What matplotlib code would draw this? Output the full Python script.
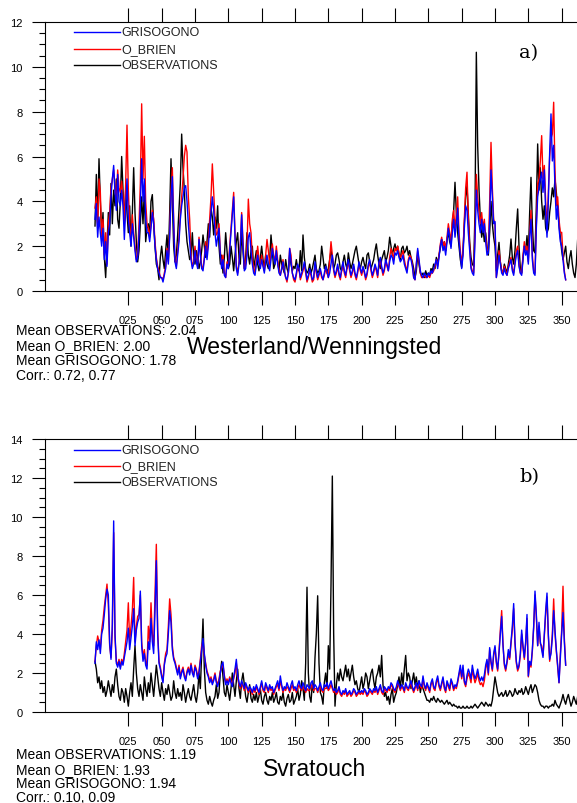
import numpy as np
import matplotlib
matplotlib.use("Agg")
import matplotlib.pyplot as plt
from matplotlib.ticker import MultipleLocator, FixedLocator

plt.rcParams['font.family'] = ['Liberation Sans', 'DejaVu Sans']

# ---------------- Panel a: Westerland/Wenningsted ----------------
a_obs = [
 2.9, 5.2, 3.0, 5.9, 4.0, 2.5, 3.5, 1.5, 0.6, 2.0,
 3.5, 2.5, 4.8, 3.0, 4.5, 3.8, 5.0, 3.2, 2.8, 4.0,
 6.0, 4.5, 3.0, 4.5, 3.5, 2.6, 3.8, 2.0, 3.5, 5.5,
 3.5, 2.2, 1.3, 1.8, 3.0, 4.2, 3.0, 4.5, 2.2, 2.8,
 3.0, 2.5, 4.0, 4.3, 3.0, 2.0, 1.2, 1.0, 0.5, 1.5,
 2.0, 1.4, 1.0, 1.8, 2.5, 1.5, 3.5, 5.9, 4.0, 2.0,
 1.3, 1.6, 2.5, 3.7, 4.8, 7.0, 5.5, 4.5, 3.0, 2.2,
 1.8, 1.4, 1.6, 2.6, 1.5, 1.2, 1.8, 1.5, 1.0, 1.3,
 1.8, 2.5, 2.0, 1.5, 2.2, 3.0, 2.4, 3.7, 3.3, 2.5,
 3.3, 2.8, 3.8, 2.0, 1.2, 1.6, 0.8, 1.5, 2.6, 1.8,
 1.0, 1.2, 2.0, 1.5, 0.9, 1.6, 2.2, 2.6, 1.5, 1.2,
 2.6, 1.8, 1.0, 1.5, 2.6, 1.6, 1.2, 1.8, 2.0, 1.0,
 1.4, 1.8, 1.2, 0.9, 1.5, 2.0, 1.4, 1.0, 1.6, 1.2,
 1.0, 1.4, 2.5, 1.8, 1.0, 1.2, 1.6, 1.3, 0.9, 1.6,
 1.2, 1.0, 0.8, 1.4, 1.0, 0.8, 1.6, 1.2, 0.9, 1.1,
 1.0, 1.4, 1.0, 0.9, 1.8, 0.9, 2.5, 1.5, 1.0, 0.8,
 0.9, 1.2, 0.8, 1.0, 1.3, 1.6, 1.0, 0.8, 0.9, 1.2,
 2.0, 1.5, 1.0, 1.2, 0.8, 1.0, 1.4, 1.8, 1.5, 1.0,
 1.2, 1.6, 1.7, 1.4, 1.0, 0.9, 1.3, 1.6, 1.2, 1.0,
 1.7, 1.3, 1.0, 1.2, 1.5, 1.8, 2.0, 1.6, 1.2, 1.0,
 1.3, 1.5, 1.2, 1.0, 1.6, 1.7, 1.3, 1.0, 1.2, 1.4,
 1.8, 2.1, 1.6, 1.2, 1.0, 1.4, 1.6, 1.8, 1.3, 1.5,
 1.8, 2.4, 2.0, 1.6, 1.9, 2.1, 1.8, 2.0, 1.6, 1.4,
 1.9, 2.0, 1.7, 1.8, 2.0, 1.6, 1.8, 1.5, 1.3, 1.0,
 0.6, 0.9, 1.6, 1.2, 0.8, 0.7, 0.8, 0.6, 0.9, 0.7,
 0.8, 0.7, 1.0, 0.9, 1.2, 1.0, 1.5, 1.2, 1.6, 1.9,
 2.3, 2.0, 2.2, 1.8, 2.3, 2.6, 2.2, 2.0, 3.0, 3.6,
 4.85, 3.5, 2.6, 2.0, 1.4, 1.05, 1.8, 3.0, 4.2, 4.7,
 3.5, 2.2, 1.5, 1.2, 1.1, 3.5, 10.65, 6.5, 4.55, 3.2,
 2.4, 2.8, 2.2, 2.6, 2.0, 1.6, 2.6, 4.0, 3.0, 2.4,
 2.0, 0.9, 1.6, 2.17, 1.3, 0.9, 0.8, 1.2, 1.0, 0.8,
 1.2, 1.6, 2.32, 1.5, 1.2, 1.8, 2.8, 3.66, 2.0, 1.0,
 0.8, 1.5, 2.0, 1.8, 2.47, 1.6, 3.5, 5.07, 3.0, 1.8,
 1.7, 3.8, 6.56, 4.5, 5.5, 4.0, 3.2, 3.8, 2.8, 2.6,
 2.77, 3.5, 4.0, 4.6, 4.2, 5.0, 4.4, 3.66, 3.0, 2.4,
 1.8, 1.4, 1.7, 2.0, 1.3, 1.0, 1.5, 1.8, 1.2, 0.8,
 0.6, 1.2, 2.3, 2.0, 1.8,
]
a_obr = [
 3.7, 4.2, 2.8, 5.0, 4.4, 2.4, 3.2, 1.6, 2.6, 1.2,
 3.0, 3.5, 4.6, 5.0, 5.4, 4.6, 4.0, 5.4, 4.6, 4.4,
 4.9, 4.2, 3.0, 4.8, 7.4, 4.5, 3.0, 2.2, 3.4, 2.6,
 2.0, 1.4, 1.6, 3.0, 4.8, 8.35, 5.0, 6.9, 4.0, 3.0,
 2.8, 2.4, 3.0, 3.6, 3.2, 2.2, 1.5, 1.1, 0.9, 0.6,
 0.6, 0.5, 0.8, 1.1, 1.9, 1.3, 2.6, 4.4, 5.5, 3.2,
 1.4, 1.1, 1.8, 2.4, 3.4, 4.2, 5.0, 6.0, 6.5, 6.2,
 4.2, 3.2, 1.6, 1.1, 1.3, 2.0, 1.4, 1.1, 2.4, 1.7,
 1.1, 1.0, 1.5, 2.2, 1.6, 2.3, 3.2, 4.2, 5.67, 4.4,
 3.2, 2.5, 2.6, 3.0, 1.8, 1.1, 1.6, 0.8, 0.6, 1.3,
 1.1, 2.0, 2.8, 3.6, 4.4, 2.6, 1.1, 0.8, 1.3, 2.1,
 3.5, 2.2, 1.0, 1.2, 2.0, 4.1, 3.0, 2.6, 1.5, 1.0,
 0.8, 1.4, 2.0, 1.4, 1.1, 1.6, 1.2, 0.9, 1.6, 2.3,
 1.8, 1.2, 1.6, 2.1, 1.6, 1.3, 2.0, 1.4, 0.9, 0.7,
 1.0, 1.4, 0.9, 0.6, 0.4, 0.8, 1.9, 1.6, 0.8, 0.5,
 0.4, 0.7, 1.1, 1.0, 0.5, 0.7, 0.9, 1.2, 0.8, 0.4,
 0.6, 0.9, 0.7, 0.4, 0.5, 1.2, 0.8, 0.5, 0.7, 0.9,
 0.6, 0.5, 0.7, 1.0, 0.8, 0.6, 1.4, 2.2, 1.6, 0.9,
 0.6, 0.8, 1.1, 0.7, 0.5, 0.9, 1.2, 0.8, 0.6, 1.0,
 1.3, 0.9, 0.6, 0.8, 1.1, 0.7, 0.5, 0.8, 1.2, 0.9,
 0.7, 1.0, 0.8, 0.5, 0.7, 1.1, 1.3, 0.9, 0.6, 0.8,
 1.1, 0.9, 0.6, 1.2, 1.4, 1.0, 0.7, 0.9, 1.3, 1.1,
 0.9, 1.5, 1.9, 1.7, 1.4, 1.9, 1.8, 2.0, 1.7, 1.5,
 1.6, 1.8, 1.4, 1.1, 0.9, 1.4, 1.6, 1.5, 1.2, 0.6,
 0.5, 1.2, 1.8, 1.3, 0.8, 0.6, 0.6, 0.7, 0.6, 0.6,
 0.7, 0.6, 0.8, 0.8, 0.9, 1.1, 1.4, 1.1, 1.6, 2.1,
 2.4, 2.0, 2.2, 1.8, 2.4, 3.0, 2.6, 2.2, 3.2, 3.6,
 2.8, 3.4, 4.2, 2.6, 1.8, 1.2, 1.8, 3.2, 4.6, 5.3,
 3.2, 2.0, 1.1, 0.9, 0.8, 2.6, 5.2, 4.2, 3.5, 3.0,
 3.5, 2.8, 3.2, 2.4, 1.8, 1.8, 4.0, 6.63, 4.6, 3.2,
 3.0, 0.6, 1.1, 1.8, 1.3, 0.9, 0.8, 1.1, 0.9, 0.7,
 1.1, 1.3, 1.5, 1.0, 0.8, 1.3, 1.8, 2.0, 1.2, 0.8,
 0.8, 1.6, 2.2, 1.8, 2.0, 1.3, 2.6, 3.6, 1.6, 0.9,
 0.8, 3.0, 4.8, 5.0, 5.8, 6.93, 5.0, 5.6, 4.0, 2.8,
 4.4, 6.0, 6.8, 7.0, 8.42, 5.4, 3.8, 4.2, 3.2, 2.6,
 2.62, 1.6, 0.9, 0.5,
]
a_gri = [
 3.2, 3.9, 2.4, 3.3, 2.6, 2.0, 2.8, 1.4, 2.2, 1.1,
 2.6, 3.0, 4.2, 5.0, 5.6, 4.4, 3.6, 5.2, 4.0, 3.8,
 4.5, 3.8, 2.3, 3.6, 5.0, 3.2, 2.6, 2.0, 3.0, 2.4,
 1.8, 1.3, 1.5, 2.5, 3.8, 5.9, 4.0, 5.0, 3.2, 2.6,
 2.6, 2.2, 2.8, 3.5, 3.0, 2.0, 1.4, 1.0, 0.8, 0.6,
 0.6, 0.4, 0.7, 1.0, 1.8, 1.2, 2.4, 4.2, 5.1, 3.0,
 1.3, 1.0, 1.6, 2.2, 3.2, 3.8, 4.2, 4.6, 4.7, 4.0,
 3.0, 2.2, 1.4, 1.0, 1.2, 1.8, 1.3, 1.0, 2.3, 1.6,
 1.0, 0.9, 1.4, 2.0, 1.4, 2.0, 2.8, 3.5, 4.2, 3.6,
 2.6, 2.0, 2.4, 2.8, 1.6, 1.0, 1.4, 0.7, 0.6, 1.2,
 1.0, 1.8, 2.6, 3.4, 4.2, 2.4, 1.0, 0.7, 1.2, 2.0,
 3.4, 2.0, 0.9, 1.0, 1.6, 2.4, 2.6, 1.8, 1.2, 0.8,
 0.7, 1.2, 1.6, 1.2, 1.0, 1.4, 1.1, 0.8, 1.3, 1.6,
 1.2, 0.9, 1.4, 1.9, 1.5, 1.2, 1.8, 1.2, 0.8, 0.7,
 1.0, 1.3, 0.9, 0.6, 0.5, 0.8, 1.9, 1.3, 0.8, 0.6,
 0.5, 0.8, 1.2, 1.0, 0.6, 0.8, 1.0, 1.3, 0.9, 0.5,
 0.7, 1.0, 0.8, 0.5, 0.6, 1.3, 0.9, 0.6, 0.8, 1.0,
 0.7, 0.5, 0.8, 1.1, 0.9, 0.6, 0.8, 1.2, 1.6, 1.0,
 0.7, 0.9, 1.2, 0.8, 0.6, 1.0, 1.3, 0.9, 0.7, 1.1,
 1.4, 1.0, 0.7, 0.9, 1.2, 0.8, 0.6, 0.9, 1.3, 1.0,
 0.8, 1.1, 0.9, 0.6, 0.8, 1.2, 1.4, 1.0, 0.7, 0.9,
 1.2, 1.0, 0.7, 1.3, 1.5, 1.1, 0.8, 1.0, 1.4, 1.2,
 0.9, 1.3, 1.6, 1.5, 1.2, 1.7, 1.6, 1.8, 1.5, 1.3,
 1.4, 1.6, 1.2, 1.0, 0.8, 1.3, 1.5, 1.4, 1.1, 0.6,
 0.5, 1.2, 1.9, 1.4, 0.9, 0.7, 0.6, 0.8, 0.7, 0.6,
 0.8, 0.7, 0.9, 0.8, 1.0, 1.2, 1.4, 1.0, 1.5, 2.0,
 2.3, 1.8, 2.0, 1.6, 2.2, 2.8, 2.4, 1.9, 2.6, 3.2,
 2.4, 3.0, 3.7, 2.2, 1.6, 1.0, 1.6, 2.8, 3.8, 3.6,
 2.6, 1.8, 1.0, 0.8, 0.7, 2.2, 4.5, 3.6, 3.0, 2.6,
 3.2, 2.6, 3.0, 2.2, 1.6, 1.7, 3.2, 5.4, 4.2, 3.0,
 3.1, 0.6, 1.0, 1.6, 1.2, 0.8, 0.7, 1.0, 0.8, 0.7,
 1.0, 1.2, 1.4, 0.9, 0.7, 1.2, 1.6, 1.8, 1.1, 0.8,
 0.7, 1.4, 2.0, 1.6, 1.8, 1.2, 2.4, 3.2, 1.4, 0.8,
 0.7, 2.8, 4.2, 4.6, 5.0, 5.3, 4.4, 5.4, 3.5, 2.4,
 4.0, 6.2, 7.9, 5.8, 6.5, 4.6, 3.2, 3.8, 2.8, 2.2,
 2.0, 1.4, 0.8, 0.5,
]

# ---------------- Panel b: Svratouch ----------------
b_obs = [
 2.6, 2.2, 1.5, 1.8, 1.2, 1.6, 1.0, 1.3, 0.8, 1.1,
 1.6, 1.2, 0.8, 1.4, 1.0, 1.8, 2.2, 1.4, 0.8, 0.6,
 1.2, 1.0, 0.5, 1.2, 0.8, 0.3, 1.0, 1.5, 0.8, 2.2,
 3.4, 2.0, 1.2, 0.8, 1.4, 1.0, 0.6, 1.8, 1.2, 0.8,
 1.5, 1.0, 2.0, 1.4, 0.8, 1.6, 2.4, 1.8, 1.2, 0.8,
 1.5, 1.0, 0.6, 1.2, 0.9, 1.4, 1.0, 0.6, 0.8, 1.6,
 1.0, 0.7, 1.2, 0.8, 1.0, 0.6, 1.4, 1.0, 0.5, 0.9,
 1.2, 0.8, 0.6, 1.0, 1.4, 0.8, 0.5, 1.0, 2.0, 1.2,
 3.0, 4.77, 2.2, 1.0, 0.6, 0.4, 0.8, 0.5, 0.3, 0.6,
 0.8, 1.4, 0.7, 1.0, 2.0, 2.6, 1.8, 1.0, 0.8, 1.4,
 1.0, 0.6, 1.2, 2.0, 1.4, 0.8, 1.6, 2.2, 1.2, 0.7,
 1.6, 2.0, 1.4, 0.8, 0.5, 1.0, 1.4, 0.7, 0.5, 0.9,
 0.6, 1.0, 0.5, 0.8, 1.2, 0.6, 0.4, 0.8, 1.0, 0.6,
 0.4, 0.8, 0.6, 1.0, 0.5, 0.7, 1.0, 0.5, 0.4, 0.8,
 0.6, 1.0, 0.5, 0.3, 0.7, 0.9, 0.5, 0.6, 1.0, 0.4,
 0.6, 0.8, 1.2, 0.6, 0.9, 1.6, 1.2, 0.6, 2.5, 6.4,
 2.0, 0.8, 0.5, 1.5, 1.0, 2.8, 4.0, 5.96, 2.5, 1.0,
 0.8, 0.4, 1.5, 2.0, 1.2, 3.4, 2.2, 6.5, 12.1, 4.0,
 0.3, 1.4, 2.0, 1.6, 2.2, 1.8, 1.6, 2.0, 2.4, 1.8,
 2.2, 1.6, 2.0, 2.4, 1.8, 1.4, 1.6, 1.2, 1.0, 1.4,
 1.8, 1.2, 1.5, 2.0, 1.8, 1.2, 1.6, 2.0, 2.2, 1.6,
 1.2, 1.8, 2.0, 2.4, 1.8, 2.9, 1.4, 0.8, 1.0, 0.6,
 0.8, 0.4, 0.9, 1.2, 0.5, 0.8, 1.0, 1.4, 1.8, 1.2,
 2.0, 1.4, 2.2, 2.9, 1.6, 2.0, 1.8, 1.2, 1.6, 2.0,
 1.4, 1.8, 1.2, 1.6, 1.0, 1.4, 1.2, 1.0, 0.8, 0.6,
 0.6, 0.5, 0.7, 0.6, 0.8, 0.6, 0.5, 0.7, 0.6, 0.5,
 0.6, 0.5, 0.4, 0.5, 0.6, 0.4, 0.5, 0.4, 0.3, 0.4,
 0.3, 0.3, 0.2, 0.3, 0.2, 0.2, 0.3, 0.2, 0.2, 0.3,
 0.2, 0.2, 0.3, 0.2, 0.3, 0.4, 0.3, 0.2, 0.3, 0.4,
 0.5, 0.4, 0.3, 0.5, 0.4, 0.3, 0.4, 0.3, 0.6, 1.2,
 1.8, 1.4, 1.0, 0.8, 0.9, 1.0, 0.8, 0.9, 1.1, 0.8,
 0.9, 1.1, 1.0, 0.8, 0.9, 1.2, 1.0, 0.9, 1.1, 1.0,
 1.2, 0.9, 1.0, 1.3, 1.1, 0.9, 1.2, 1.4, 1.0, 1.2,
 1.4, 1.3, 1.0, 0.6, 0.4, 0.3, 0.3, 0.2, 0.3, 0.3,
 0.2, 0.3, 0.3, 0.4, 0.3, 0.6, 0.4, 0.3, 0.2, 0.4,
 0.6, 0.9, 0.6, 0.4, 0.7, 0.9, 0.6, 0.3, 0.5, 0.8,
 0.6, 0.4, 0.8, 0.6, 0.5,
]
b_obr = [
 2.6, 3.4, 3.9, 3.6, 3.2, 4.2, 4.7, 5.4, 6.0, 6.56,
 5.5, 3.4, 2.8, 4.2, 9.2, 3.8, 2.6, 2.4, 2.7, 2.3,
 2.7, 2.5, 3.0, 3.6, 4.2, 5.6, 3.6, 4.4, 5.2, 6.9,
 3.6, 4.4, 4.9, 5.0, 6.0, 3.6, 2.8, 3.2, 2.6, 2.4,
 4.4, 3.6, 5.6, 4.0, 3.4, 6.0, 8.6, 4.2, 2.6, 2.3,
 1.9, 1.6, 2.5, 3.0, 3.2, 4.4, 5.8, 5.0, 3.4, 2.8,
 2.6, 2.3, 2.0, 2.4, 1.8, 2.1, 2.3, 1.9, 1.7, 2.1,
 2.3, 2.0, 2.5, 2.1, 1.9, 2.4, 2.2, 1.8, 2.1, 2.7,
 3.4, 3.6, 2.9, 2.5, 2.1, 1.9, 1.6, 1.8, 1.5, 1.7,
 2.0, 1.6, 1.4, 1.7, 2.1, 2.3, 2.4, 1.9, 1.5, 1.7,
 1.5, 1.8, 1.6, 1.4, 1.7, 2.0, 2.5, 1.8, 1.4, 1.2,
 1.5, 1.3, 1.1, 1.4, 1.2, 1.0, 1.2, 1.1, 0.9, 1.2,
 1.0, 1.3, 1.1, 0.9, 1.2, 1.5, 1.1, 1.0, 1.4, 1.2,
 1.0, 1.3, 1.1, 1.2, 0.9, 1.1, 1.3, 1.4, 1.1, 1.6,
 1.3, 1.0, 1.2, 1.1, 1.3, 1.2, 1.0, 1.2, 1.4, 1.1,
 1.2, 1.0, 1.2, 1.4, 1.2, 1.1, 1.3, 1.2, 1.0, 1.2,
 1.1, 1.1, 1.3, 1.4, 1.1, 1.2, 1.2, 1.0, 1.2, 1.3,
 1.1, 1.0, 1.2, 1.2, 1.3, 1.1, 1.2, 1.4, 1.2, 1.0,
 1.1, 0.9, 1.0, 1.2, 0.9, 0.8, 1.0, 0.9, 1.1, 0.8,
 0.9, 1.0, 0.8, 0.9, 1.1, 1.0, 0.8, 0.9, 1.0, 0.9,
 1.0, 0.9, 1.1, 1.0, 0.8, 0.9, 1.1, 1.0, 0.9, 1.1,
 1.0, 1.2, 0.9, 1.1, 1.3, 1.0, 0.9, 1.2, 1.1, 1.0,
 1.2, 1.1, 1.4, 1.3, 1.1, 1.0, 1.2, 1.5, 1.3, 1.1,
 1.3, 1.2, 1.0, 1.4, 1.2, 1.1, 1.3, 1.5, 1.2, 1.0,
 1.2, 1.4, 1.1, 1.5, 1.3, 1.2, 1.7, 1.3, 1.1, 1.4,
 1.2, 1.0, 1.4, 1.6, 1.2, 1.1, 1.5, 1.7, 1.3, 1.1,
 1.4, 1.7, 1.2, 1.0, 1.5, 1.3, 1.1, 1.6, 1.4, 1.1,
 1.3, 1.2, 1.5, 1.9, 2.2, 1.7, 2.2, 1.5, 1.3, 1.7,
 2.0, 1.8, 1.5, 2.2, 1.8, 1.5, 1.7, 2.0, 1.6, 1.4,
 1.5, 1.3, 1.6, 2.2, 2.6, 1.9, 3.2, 2.5, 2.1, 2.9,
 3.3, 2.5, 2.1, 3.1, 4.2, 5.2, 3.5, 2.4, 2.1, 2.5,
 3.0, 2.7, 3.5, 4.2, 5.3, 3.5, 2.5, 2.1, 2.3, 2.9,
 4.0, 3.3, 2.7, 3.5, 4.8, 1.8, 2.5, 2.3, 3.1, 4.3,
 6.0, 4.9, 3.4, 4.4, 3.5, 3.4, 2.9, 3.9, 5.0, 5.9,
 3.9, 2.6, 3.1, 4.0, 5.8, 4.0, 3.1, 2.3, 1.5, 3.0,
 4.2, 6.45, 3.8, 2.4,
]
b_gri = [
 2.5, 3.6, 3.2, 3.7, 3.0, 4.0, 4.3, 5.0, 5.8, 6.3,
 6.0, 3.5, 2.7, 4.5, 9.8, 4.0, 2.5, 2.3, 2.6, 2.2,
 2.6, 2.4, 2.8, 3.2, 3.6, 4.3, 3.2, 3.8, 4.4, 5.3,
 3.4, 4.2, 4.6, 4.8, 6.2, 3.4, 2.6, 3.0, 2.4, 2.2,
 3.6, 3.2, 4.8, 3.6, 3.0, 5.2, 7.76, 4.0, 2.5, 2.2,
 1.8, 1.5, 2.4, 2.8, 3.0, 4.0, 5.2, 4.6, 3.2, 2.7,
 2.5, 2.2, 1.9, 2.3, 1.7, 2.0, 2.2, 1.8, 1.6, 2.0,
 2.2, 1.9, 2.4, 2.0, 1.8, 2.3, 2.1, 1.7, 2.0, 2.6,
 3.2, 3.77, 3.0, 2.4, 2.0, 1.8, 1.5, 1.7, 1.4, 1.6,
 1.9, 1.5, 1.3, 1.6, 2.0, 2.4, 2.56, 1.8, 1.4, 1.6,
 1.4, 1.7, 1.5, 1.3, 1.8, 2.2, 2.7, 1.9, 1.5, 1.3,
 1.6, 1.4, 1.2, 1.5, 1.3, 1.1, 1.3, 1.2, 1.0, 1.3,
 1.1, 1.4, 1.2, 1.0, 1.3, 1.6, 1.2, 1.1, 1.5, 1.3,
 1.1, 1.4, 1.2, 1.3, 1.0, 1.2, 1.4, 1.6, 1.2, 1.85,
 1.4, 1.1, 1.3, 1.2, 1.5, 1.3, 1.1, 1.4, 1.6, 1.2,
 1.3, 1.1, 1.4, 1.6, 1.3, 1.2, 1.5, 1.3, 1.1, 1.4,
 1.3, 1.2, 1.5, 1.6, 1.2, 1.4, 1.3, 1.1, 1.3, 1.5,
 1.2, 1.1, 1.4, 1.3, 1.5, 1.2, 1.4, 1.6, 1.3, 1.1,
 1.2, 1.0, 1.1, 1.3, 1.0, 0.9, 1.1, 1.0, 1.2, 0.9,
 1.0, 1.1, 0.9, 1.0, 1.2, 1.1, 0.9, 1.0, 1.1, 1.0,
 1.1, 1.0, 1.2, 1.1, 0.9, 1.0, 1.2, 1.1, 1.0, 1.2,
 1.1, 1.3, 1.0, 1.2, 1.4, 1.1, 1.0, 1.3, 1.2, 1.1,
 1.3, 1.2, 1.5, 1.4, 1.2, 1.1, 1.3, 1.6, 1.4, 1.2,
 1.4, 1.3, 1.1, 1.5, 1.3, 1.2, 1.4, 1.6, 1.3, 1.1,
 1.3, 1.5, 1.2, 1.6, 1.4, 1.3, 1.85, 1.4, 1.2, 1.5,
 1.3, 1.1, 1.5, 1.7, 1.3, 1.2, 1.6, 1.85, 1.4, 1.2,
 1.5, 1.8, 1.3, 1.1, 1.6, 1.4, 1.2, 1.7, 1.5, 1.2,
 1.4, 1.3, 1.6, 2.0, 2.4, 1.8, 2.4, 1.6, 1.4, 1.9,
 2.2, 2.0, 1.7, 2.4, 2.0, 1.7, 1.9, 2.2, 1.8, 1.6,
 1.8, 1.6, 1.9, 2.4, 2.7, 2.0, 3.3, 2.6, 2.2, 3.0,
 3.4, 2.6, 2.2, 3.0, 4.0, 4.9, 3.4, 2.5, 2.2, 2.6,
 3.2, 2.8, 3.6, 4.4, 5.56, 3.6, 2.6, 2.2, 2.4, 3.0,
 4.2, 3.4, 2.8, 3.6, 5.0, 1.85, 2.6, 2.4, 3.2, 4.4,
 6.2, 5.0, 3.4, 4.6, 3.6, 3.2, 2.8, 4.0, 5.2, 6.1,
 4.0, 2.7, 3.0, 3.8, 5.2, 4.2, 3.2, 2.4, 1.5, 2.8,
 4.0, 5.1, 3.6, 2.4,
]

xtick_vals = [25, 50, 75, 100, 125, 150, 175, 200, 225, 250, 275, 300, 325, 350]
xtick_labels = ["025", "050", "075", "100", "125", "150", "175", "200",
                "225", "250", "275", "300", "325", "350"]
series_names = ["GRISOGONO", "O_BRIEN", "OBSERVATIONS"]
series_colors = ["#0000ff", "#ff0000", "#000000"]

panels = [
    dict(obs=a_obs, obr=a_obr, gri=a_gri, ymax=12, label="a)",
         station="Westerland/Wenningsted",
         stats=["Mean OBSERVATIONS: 2.04", "Mean O_BRIEN: 2.00",
                "Mean GRISOGONO: 1.78", "Corr.: 0.72, 0.77"],
         top=23, bottom=292, leg_y=[33, 50, 66], lab_y=53,
         stats_y=[331, 346, 361, 376], st_y=348),
    dict(obs=b_obs, obr=b_obr, gri=b_gri, ymax=14, label="b)",
         station="Svratouch",
         stats=["Mean OBSERVATIONS: 1.19", "Mean O_BRIEN: 1.93",
                "Mean GRISOGONO: 1.94", "Corr.: 0.10, 0.09"],
         top=440, bottom=713, leg_y=[451, 467, 483], lab_y=477,
         stats_y=[755, 770, 784, 798], st_y=770),
]

W, H = 577, 804
fig = plt.figure(figsize=(W / 100, H / 100), dpi=100)

def fx(x):
    return x / W

def fy(y):
    return 1 - y / H

for p in panels:
    left, right = 45, 585
    ax = fig.add_axes([fx(left), fy(p["bottom"]), (right - left) / W,
                       (p["bottom"] - p["top"]) / H])
    ax.plot(np.arange(len(p["obs"])), p["obs"], color="black", lw=1.0)
    ax.plot(np.arange(len(p["obr"])), p["obr"], color="#ff0000", lw=1.0)
    ax.plot(np.arange(len(p["gri"])), p["gri"], color="#0000ff", lw=1.0)
    ax.set_xlim(-37.5, 367.5)
    ax.set_ylim(0, p["ymax"])
    ax.xaxis.set_major_locator(FixedLocator(xtick_vals))
    ax.set_xticklabels(xtick_labels)
    ax.yaxis.set_major_locator(MultipleLocator(2))
    ax.yaxis.set_minor_locator(MultipleLocator(0.5))
    ax.tick_params(axis="x", which="major", direction="out", length=10,
                   width=0.8, top=True, labeltop=False, pad=7, labelsize=8)
    ax.tick_params(axis="y", which="major", direction="out", length=9.5,
                   width=0.8, pad=6.5, labelsize=8)
    ax.tick_params(axis="y", which="minor", direction="out", length=4,
                   width=0.8)
    for sp in ax.spines.values():
        sp.set_linewidth(0.8)
    # legend
    for name, col, ly in zip(series_names, series_colors, p["leg_y"]):
        fig.add_artist(plt.Line2D([fx(74), fx(120)], [fy(ly), fy(ly)],
                                  color=col, lw=1.0))
        fig.text(fx(121), fy(ly), name, fontsize=9, va="center",
                 ha="left", color="#222222")
    fig.text(fx(529), fy(p["lab_y"]), p["label"], fontsize=14,
             family="DejaVu Serif", ha="center", va="center")
    for s, sy in zip(p["stats"], p["stats_y"]):
        fig.text(fx(16), fy(sy), s, fontsize=10, ha="left", va="center")
    fig.text(fx(315), fy(p["st_y"]), p["station"], fontsize=16.5,
             ha="center", va="center")

fig.savefig("out.png", dpi=100)
